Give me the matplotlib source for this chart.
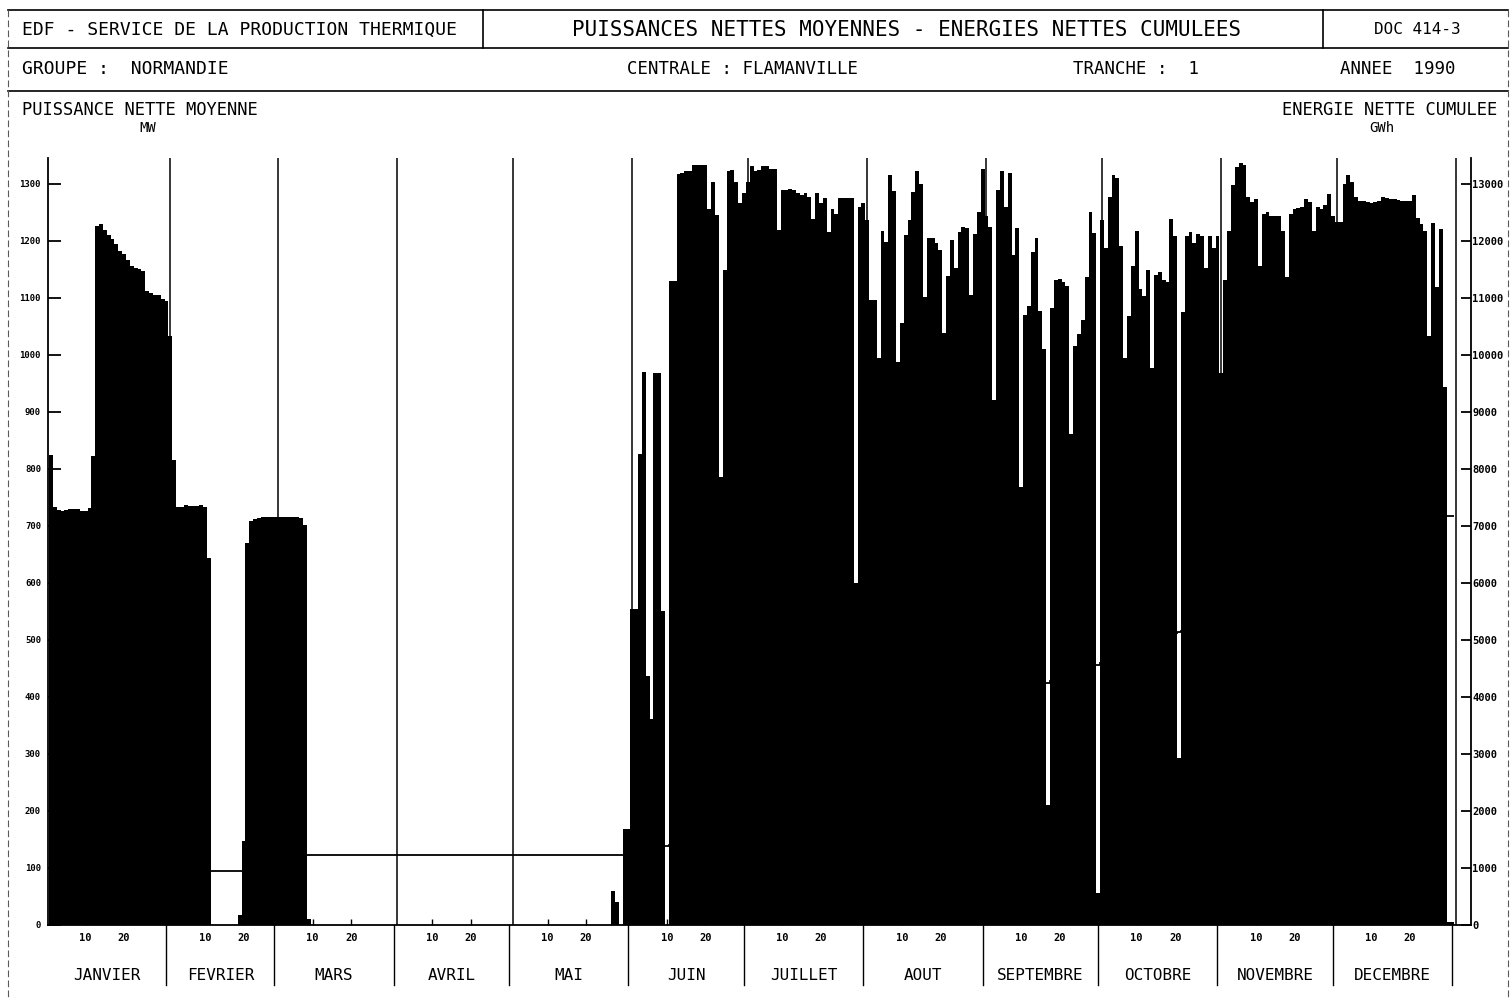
import numpy as np
import matplotlib.pyplot as plt
from matplotlib.lines import Line2D

# puissance nette moyenne journaliere (MW), par mois
janvier = [825, 733, 728, 727, 728, 729, 729, 730, 726, 727, 731, 822, 1226, 1230, 1220, 1210,
           1203, 1194, 1183, 1178, 1166, 1157, 1153, 1150, 1147, 1112, 1108, 1106, 1105, 1098, 1094]
fevrier = [1033, 816, 733, 734, 736, 735, 735, 735, 736, 734, 644, 0, 0, 0, 0, 0, 0, 0,
           18, 148, 670, 708, 712, 714, 715, 715, 716, 716]
mars = [715, 716, 716, 715, 716, 715, 714, 702, 10] + [0] * 22
avril = [0] * 30
mai = [0] * 26 + [60, 41, 0, 168, 168]
juin = [554, 554, 826, 970, 436, 362, 969, 969, 550, 0, 1129, 1129, 1317, 1320, 1322,
        1322, 1333, 1333, 1334, 1333, 1257, 1304, 1245, 786, 1149, 1322, 1325, 1304, 1266, 1284]
juillet = [1304, 1331, 1322, 1325, 1332, 1332, 1327, 1327, 1219, 1289, 1289, 1292, 1289, 1284,
           1281, 1284, 1278, 1239, 1284, 1266, 1275, 1216, 1257, 1248, 1276, 1276, 1276, 1276,
           600, 1260, 1267]
aout = [1237, 1096, 1096, 994, 1217, 1199, 1315, 1288, 987, 1057, 1210, 1237, 1286, 1323, 1300,
        1101, 1206, 1206, 1196, 1184, 1039, 1138, 1202, 1152, 1216, 1225, 1222, 1106, 1212,
        1251, 1327]
septembre = [1244, 1225, 921, 1289, 1322, 1260, 1320, 1175, 1222, 769, 1070, 1086, 1181, 1206,
             1078, 1011, 210, 1082, 1131, 1133, 1128, 1121, 862, 1016, 1037, 1061, 1136, 1251,
             1214, 56]
octobre = [1237, 1187, 1277, 1316, 1311, 1192, 995, 1068, 1157, 1217, 1115, 1104, 1149, 978,
           1140, 1145, 1132, 1128, 1239, 1209, 293, 1076, 1209, 1215, 1196, 1213, 1209, 1153,
           1209, 1187, 1209]
novembre = [969, 1132, 1217, 1298, 1330, 1336, 1334, 1277, 1268, 1273, 1157, 1247, 1251, 1243,
            1243, 1243, 1217, 1136, 1247, 1256, 1258, 1260, 1273, 1268, 1217, 1260, 1256, 1264,
            1283, 1243]
decembre = [1234, 1234, 1300, 1316, 1303, 1277, 1271, 1271, 1268, 1266, 1268, 1270, 1277, 1275,
            1273, 1273, 1272, 1271, 1270, 1270, 1281, 1240, 1230, 1217, 1033, 1231, 1119, 1221,
            943, 5, 5]

mois = ["JANVIER", "FEVRIER", "MARS", "AVRIL", "MAI", "JUIN", "JUILLET", "AOUT",
        "SEPTEMBRE", "OCTOBRE", "NOVEMBRE", "DECEMBRE"]
yticks_mw = [0, 100, 200, 300, 400, 500, 600, 700, 800, 900, 1000, 1100, 1200, 1300]
yticks_gwh = [0, 1000, 2000, 3000, 4000, 5000, 6000, 7000, 8000, 9000, 10000, 11000, 12000, 13000]

donnees = [janvier, fevrier, mars, avril, mai, juin, juillet, aout, septembre, octobre,
           novembre, decembre]
puissance = np.concatenate([np.array(m, dtype=float) for m in donnees])
longueurs = np.array([len(m) for m in donnees])
debuts = np.concatenate([[0], np.cumsum(longueurs)])
# energie cumulee en GWh (MW x 24 h)
energie = np.cumsum(puissance) * 24 / 1000
bords = np.arange(len(puissance) + 1)

W, H = 1511, 999
fx = lambda px: px / W
fy = lambda py: 1 - py / H
police = "DejaVu Sans Mono"

fig = plt.figure(figsize=(W / 100, H / 100), dpi=100)
ax = fig.add_axes([fx(48), fy(925), fx(1471) - fx(48), fy(158) - fy(925)])
ax.stairs(puissance, bords, fill=True, color="black", lw=0)
for d in debuts[1:]:
    ax.axvline(d + 0.5, color="black", lw=1.1, zorder=0)
ax.set_xlim(-0.26, 369.35)
ax.set_ylim(0, 1345.6)

ax2 = ax.twinx()
ax2.stairs(energie, bords, color="black", lw=1.3, baseline=None)
ax2.set_ylim(0, 13456)

for a in (ax, ax2):
    a.spines["top"].set_visible(False)
ax.spines["right"].set_visible(False)
ax2.spines["left"].set_visible(False)
ax2.spines["bottom"].set_visible(False)
for s in ("left", "bottom"):
    ax.spines[s].set_linewidth(1.3)
ax2.spines["right"].set_linewidth(1.3)

ax.set_yticks(yticks_mw)
ax.set_yticklabels([str(v) for v in yticks_mw], family=police, fontsize=6.5, fontweight="bold")
ax.tick_params(axis="y", direction="in", length=9, width=1.3, pad=5)
ax2.set_yticks(yticks_gwh)
ax2.set_yticklabels([str(v) for v in yticks_gwh], family=police, fontsize=7.5, fontweight="bold")
ax2.tick_params(axis="y", direction="in", length=7, width=1.3, pad=1)

xt = np.concatenate([debuts[:-1] + 9.5, debuts[:-1] + 19.5])
ax.set_xticks(xt)
ax.set_xticklabels(["10"] * 12 + ["20"] * 12, family=police, fontsize=7.5, fontweight="bold")
ax.tick_params(axis="x", direction="in", length=4, width=1, pad=6)

# separateurs et noms des mois sous l'axe
tr = ax.get_xaxis_transform()
h_ax = 767.0
for d in debuts[1:]:
    ax.add_line(Line2D([d - 0.5, d - 0.5], [0, -60 / h_ax], transform=tr, color="black",
                       lw=1, clip_on=False))
for i, nom in enumerate(mois):
    c = (debuts[i] + debuts[i + 1]) / 2 - 0.5
    ax.text(c, -50 / h_ax, nom, transform=tr, ha="center", va="center", family=police,
            fontsize=11.5)

# cartouche
def ligne(xa, xb, ya, yb, lw=1.2, ls="-", col="black"):
    fig.add_artist(Line2D([fx(xa), fx(xb)], [fy(ya), fy(yb)], transform=fig.transFigure,
                          color=col, lw=lw, ls=ls))

ligne(8, 1508, 10, 10)
ligne(8, 1508, 48, 48)
ligne(8, 1508, 91, 91)
ligne(483, 483, 10, 48)
ligne(1323, 1323, 10, 48)
ligne(8, 8, 10, 999, lw=0.8, ls=(0, (6, 3)), col="0.35")
ligne(1508, 1508, 10, 999, lw=0.8, ls=(0, (6, 3)), col="0.35")

def texte(x, y, s, taille, ha="left"):
    fig.text(fx(x), fy(y), s, ha=ha, va="center", family=police, fontsize=taille)

texte(22, 30, "EDF - SERVICE DE LA PRODUCTION THERMIQUE", 13)
texte(907, 30, "PUISSANCES NETTES MOYENNES - ENERGIES NETTES CUMULEES", 15, ha="center")
texte(1417, 30, "DOC 414-3", 11.5, ha="center")
texte(22, 69, "GROUPE :  NORMANDIE", 13)
texte(627, 69, "CENTRALE : FLAMANVILLE", 12.5)
texte(1073, 69, "TRANCHE :  1", 12.5)
texte(1340, 69, "ANNEE  1990", 12.5)
texte(22, 110, "PUISSANCE NETTE MOYENNE", 12.3)
texte(148, 128, "MW", 10, ha="center")
texte(1497, 110, "ENERGIE NETTE CUMULEE", 12.3, ha="right")
texte(1382, 128, "GWh", 10, ha="center")

fig.savefig("out.png", dpi=100)
